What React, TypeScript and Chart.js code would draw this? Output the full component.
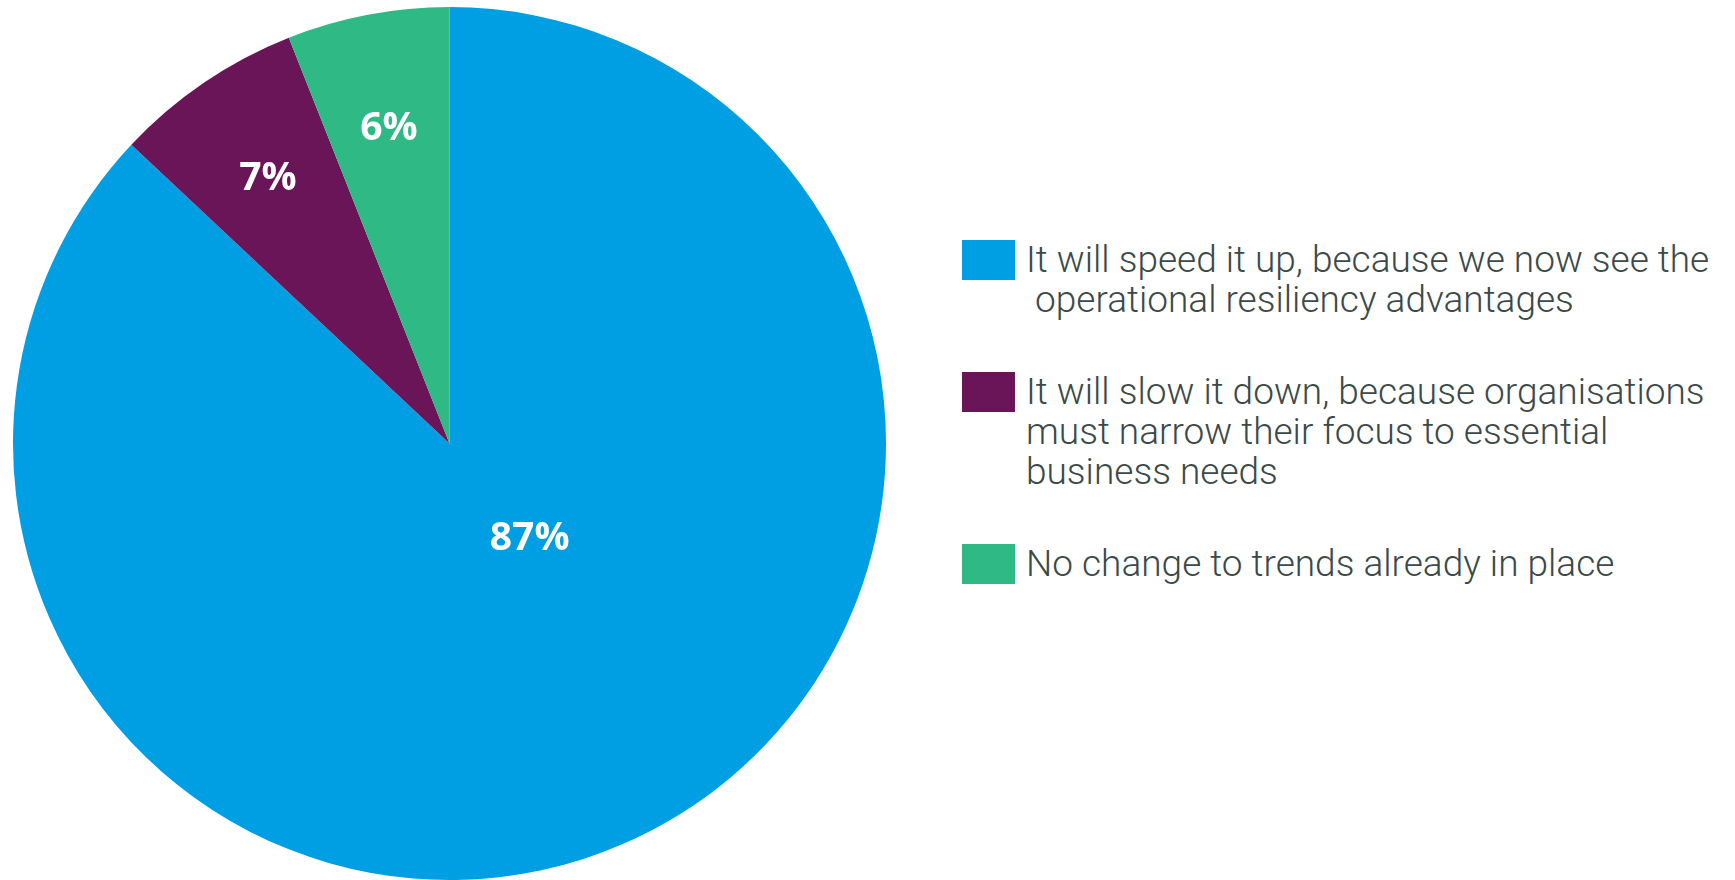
import React, { useEffect, useRef } from "react";
import { Chart, registerables } from "chart.js";

Chart.register(...registerables);

const categories: string[][] = [
  ["It will speed it up, because we now see the", " operational resiliency advantages"],
  ["It will slow it down, because organisations", "must narrow their focus to essential", "business needs"],
  ["No change to trends already in place"],
];
const values: number[] = [87, 7, 6];
const valueLabels: string[] = ["87%", "7%", "6%"];
const colors: string[] = ["#009FE3", "#6B1559", "#2FB984"];

// label placement style: [radius fraction, angle offset from slice middle in degrees]
const labelPlacement: [number, number][] = [
  [0.28, -17.6],
  [0.74, 0],
  [0.74, 0],
];

const labelPlugin = {
  id: "sliceLabels",
  afterDatasetsDraw(chart: any) {
    const ctx = chart.ctx;
    const meta = chart.getDatasetMeta(0);
    const size = 39;
    ctx.save();
    ctx.fillStyle = "#ffffff";
    ctx.font = `bold ${size}px "Open Sans"`;
    ctx.textAlign = "center";
    ctx.textBaseline = "alphabetic";
    meta.data.forEach((arc: any, i: number) => {
      const p = arc.getProps(["x", "y", "startAngle", "endAngle", "outerRadius"], true);
      const [frac, off] = labelPlacement[i];
      const a = (p.startAngle + p.endAngle) / 2 + (off * Math.PI) / 180;
      const r = p.outerRadius * frac;
      const x = p.x + Math.cos(a) * r;
      const y = p.y + Math.sin(a) * r;
      ctx.fillText(valueLabels[i], x, y + (size * 0.714) / 2);
    });
    ctx.restore();
  },
};

export default function App() {
  const ref = useRef<HTMLCanvasElement | null>(null);
  useEffect(() => {
    if (!ref.current) return;
    const chart = new Chart(ref.current, {
      type: "pie",
      data: {
        labels: categories.map((c) => c.join(" ")),
        datasets: [
          {
            data: values,
            backgroundColor: colors,
            borderWidth: 0,
          },
        ],
      },
      options: {
        animation: false,
        responsive: false,
        maintainAspectRatio: false,
        layout: { padding: 0 },
        plugins: {
          legend: { display: false },
          tooltip: { enabled: false },
        },
      },
      plugins: [labelPlugin],
    });
    return () => chart.destroy();
  }, []);

  return (
    <div
      style={{
        position: "fixed",
        left: 0,
        top: 0,
        width: 1735,
        height: 880,
        background: "#ffffff",
        overflow: "hidden",
      }}
    >
      <canvas
        ref={ref}
        width={873}
        height={873}
        style={{ position: "absolute", left: 13, top: 7, width: 873, height: 873 }}
      />
      <div
        style={{
          position: "absolute",
          left: 962,
          top: 240,
          fontFamily: "Roboto",
          fontWeight: 300,
          fontSize: 37,
          lineHeight: "40px",
          color: "#3B4A48",
        }}
      >
        {categories.map((lines, i) => (
          <div key={i} style={{ display: "flex", alignItems: "flex-start", marginBottom: 52 }}>
            <div
              style={{
                width: 53,
                height: 40,
                background: colors[i],
                flex: "none",
              }}
            />
            <div style={{ marginLeft: 11, whiteSpace: "pre" }}>
              {lines.map((l, j) => (
                <div key={j}>{l}</div>
              ))}
            </div>
          </div>
        ))}
      </div>
    </div>
  );
}
